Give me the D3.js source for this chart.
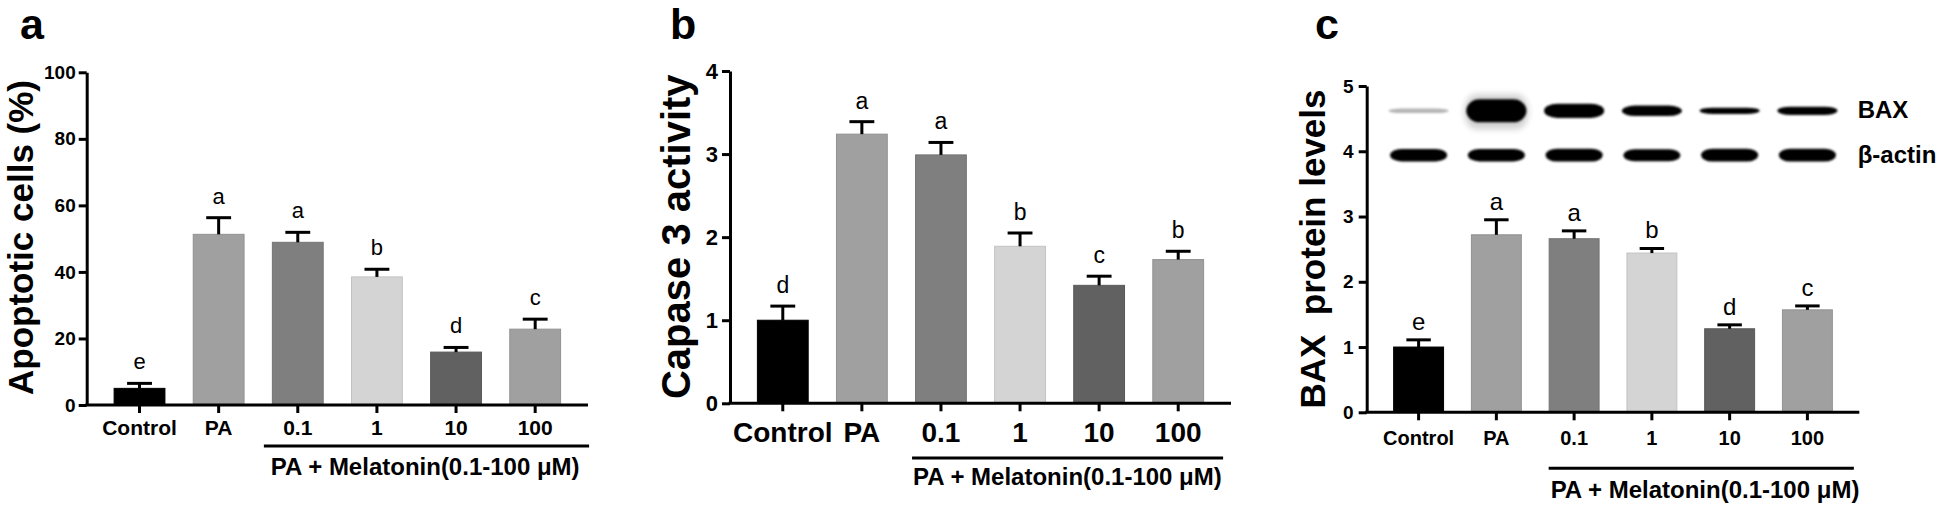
<!DOCTYPE html>
<html><head><meta charset="utf-8">
<script src="https://cdn.jsdelivr.net/npm/d3@7"></script>
<style>
body{margin:0;background:#fff}
svg{display:block}
text{font-family:"Liberation Sans",Arial,Helvetica,sans-serif}
</style>
</head><body>
<svg id="fig" width="1946" height="508"></svg>
<script>
// ---------- data ----------
const categories = ["Control", "PA", "0.1", "1", "10", "100"];
const barColors = ["#000000", "#a0a0a0", "#7f7f7f", "#d4d4d4", "#616161", "#a0a0a0"];

const apoptosisMean = [5.0, 51.3, 48.9, 38.5, 15.9, 22.8];
const apoptosisErr = [1.5, 5.0, 3.0, 2.3, 1.4, 3.0];
const apoptosisLetters = ["e", "a", "a", "b", "d", "c"];
const apoptosisTicks = [0, 20, 40, 60, 80, 100];

const caspaseMean = [1.0, 3.24, 2.99, 1.89, 1.42, 1.73];
const caspaseErr = [0.17, 0.15, 0.15, 0.16, 0.11, 0.10];
const caspaseLetters = ["d", "a", "a", "b", "c", "b"];
const caspaseTicks = [0, 1, 2, 3, 4];

const baxMean = [1.0, 2.72, 2.66, 2.44, 1.28, 1.57];
const baxErr = [0.11, 0.23, 0.12, 0.07, 0.06, 0.06];
const baxLetters = ["e", "a", "a", "b", "d", "c"];
const baxTicks = [0, 1, 2, 3, 4, 5];

// western blot band signal (relative), per lane
const baxBandSignal = [0.2, 1.0, 0.62, 0.45, 0.27, 0.36];
const actinBandSignal = [0.54, 0.54, 0.56, 0.52, 0.56, 0.56];
const blotRows = ["BAX", "β-actin"];
const blotRowLevel = [4.62, 3.94];

const bracketText = "PA + Melatonin(0.1-100 μM)";

// ---------- drawing ----------
const svg = d3.select("#fig");
const FONT = '"Liberation Sans",Arial,Helvetica,sans-serif';

function panel(cfg) {
  const g = svg.append("g");
  const x = d3.scaleBand().domain(categories)
    .range([cfg.x0, cfg.x1]).paddingInner(0.345).paddingOuter(0.34);
  const y = d3.scaleLinear().domain([0, cfg.yMax]).range([cfg.yZero, cfg.yTop]);
  const bw = x.bandwidth();

  // bars
  g.selectAll("rect.bar").data(categories).join("rect")
    .attr("class", "bar")
    .attr("x", d => x(d) + 0.5)
    .attr("width", bw - 1)
    .attr("y", (d, i) => y(cfg.means[i]))
    .attr("height", (d, i) => y(0) - y(cfg.means[i]))
    .attr("fill", (d, i) => barColors[i])
    .attr("stroke", (d, i) => d3.rgb(barColors[i]).darker(0.25))
    .attr("stroke-width", 1);

  // error bars (upper only)
  const cap = bw * 0.48;
  const eb = g.selectAll("g.err").data(categories).join("g").attr("class", "err");
  eb.append("line")
    .attr("x1", d => x(d) + bw / 2).attr("x2", d => x(d) + bw / 2)
    .attr("y1", (d, i) => y(cfg.means[i]))
    .attr("y2", (d, i) => y(cfg.means[i] + cfg.errs[i]))
    .attr("stroke", "#000").attr("stroke-width", 3);
  eb.append("line")
    .attr("x1", d => x(d) + bw / 2 - cap / 2).attr("x2", d => x(d) + bw / 2 + cap / 2)
    .attr("y1", (d, i) => y(cfg.means[i] + cfg.errs[i]))
    .attr("y2", (d, i) => y(cfg.means[i] + cfg.errs[i]))
    .attr("stroke", "#000").attr("stroke-width", 3);

  // significance letters
  g.selectAll("text.sig").data(categories).join("text")
    .attr("class", "sig")
    .attr("x", d => x(d) + bw / 2)
    .attr("y", (d, i) => y(cfg.means[i] + cfg.errs[i]) - cfg.letterGap)
    .attr("text-anchor", "middle")
    .attr("font-size", cfg.letterSize)
    .attr("fill", "#000")
    .text((d, i) => cfg.letters[i]);

  // axes
  const ya = g.append("g").attr("transform", `translate(${cfg.x0},0)`)
    .call(d3.axisLeft(y).tickValues(cfg.ticks).tickFormat(d3.format("d"))
      .tickSize(8).tickSizeOuter(0).tickPadding(cfg.yTickPad));
  const xa = g.append("g").attr("transform", `translate(0,${cfg.yZero})`)
    .call(d3.axisBottom(x).tickSize(8).tickSizeOuter(0).tickPadding(cfg.xTickPad));
  [ya, xa].forEach(a => {
    a.select(".domain").attr("stroke", "#000").attr("stroke-width", 3);
    a.selectAll(".tick line").attr("stroke", "#000").attr("stroke-width", 3);
    a.selectAll("text").attr("fill", "#000").attr("font-weight", "bold")
      .attr("font-family", FONT);
  });
  ya.selectAll("text").attr("font-size", cfg.yTickFont);
  xa.selectAll("text").attr("font-size", cfg.xTickFont);
  // x-axis line extends to the y-axis
  xa.select(".domain").attr("d", `M${cfg.x0 - 1.5},0H${cfg.x1}`);

  // y title
  g.append("text")
    .attr("transform", `translate(${cfg.titleX},${cfg.titleY}) rotate(-90)`)
    .attr("text-anchor", "middle")
    .attr("font-weight", "bold")
    .attr("font-size", cfg.titleSize)
    .style("white-space", "pre")
    .text(cfg.title);

  // panel letter
  g.append("text").attr("x", cfg.labelX).attr("y", 39)
    .attr("font-weight", "bold").attr("font-size", 43).text(cfg.label);

  // bracket for melatonin groups
  const bx0 = x("0.1") - cfg.bracketPadL;
  const bx1 = x("100") + bw + cfg.bracketPadR;
  g.append("line").attr("x1", bx0).attr("x2", bx1)
    .attr("y1", cfg.bracketY).attr("y2", cfg.bracketY)
    .attr("stroke", "#000").attr("stroke-width", 3);
  g.append("text").attr("x", bx0 + cfg.bracketTextDx).attr("y", cfg.bracketTextY)
    .attr("font-weight", "bold").attr("font-size", 24).text(bracketText);

  return {g, x, y, bw};
}

panel({
  x0: 86.7, x1: 588, yZero: 405, yTop: 72.3, yMax: 100, ticks: apoptosisTicks,
  means: apoptosisMean, errs: apoptosisErr, letters: apoptosisLetters,
  letterGap: 14, letterSize: 22,
  yTickPad: 3, xTickPad: 7, yTickFont: 19, xTickFont: 21,
  title: "Apoptotic cells (%)", titleX: 33, titleY: 237.5, titleSize: 35,
  label: "a", labelX: 20,
  bracketY: 446, bracketPadL: 8, bracketPadR: 28, bracketTextDx: 7, bracketTextY: 475
});

panel({
  x0: 730, x1: 1231, yZero: 403.3, yTop: 71, yMax: 4, ticks: caspaseTicks,
  means: caspaseMean, errs: caspaseErr, letters: caspaseLetters,
  letterGap: 13, letterSize: 23,
  yTickPad: 4, xTickPad: 11, yTickFont: 22, xTickFont: 28,
  title: "Capase 3 activity", titleX: 690, titleY: 236.7, titleSize: 40,
  label: "b", labelX: 670,
  bracketY: 458, bracketPadL: 3, bracketPadR: 19, bracketTextDx: 1, bracketTextY: 485
});

const pc = panel({
  x0: 1366.7, x1: 1859.3, yZero: 412.3, yTop: 86, yMax: 5, ticks: baxTicks,
  means: baxMean, errs: baxErr, letters: baxLetters,
  letterGap: 10, letterSize: 24,
  yTickPad: 5, xTickPad: 11, yTickFont: 19, xTickFont: 20,
  title: "BAX  protein levels", titleX: 1325, titleY: 249, titleSize: 35,
  label: "c", labelX: 1315,
  bracketY: 468.3, bracketPadL: 0, bracketPadR: 21, bracketTextDx: 2, bracketTextY: 498
});

// ---------- western blot in panel c ----------
const defs = svg.append("defs");
defs.append("filter").attr("id", "blur").attr("x", "-20%").attr("y", "-60%")
  .attr("width", "140%").attr("height", "220%")
  .append("feGaussianBlur").attr("stdDeviation", 1.3);
defs.append("filter").attr("id", "blur2").attr("x", "-30%").attr("y", "-100%")
  .attr("width", "160%").attr("height", "300%")
  .append("feGaussianBlur").attr("stdDeviation", 3);

const blot = pc.g.append("g");
const maxBandH = 23;
categories.forEach((c, i) => {
  const cx = pc.x(c) + pc.bw / 2;
  // BAX band
  const hB = Math.max(4, maxBandH * baxBandSignal[i]);
  const wB = pc.bw * 1.18;
  const yB = pc.y(blotRowLevel[0]);
  if (baxBandSignal[i] >= 0.9) {
    blot.append("rect")
      .attr("x", cx - wB / 2 - 2).attr("y", yB - hB / 2 - 5)
      .attr("width", wB + 4).attr("height", hB + 12)
      .attr("rx", wB * 0.2).attr("ry", (hB + 12) / 2)
      .attr("fill", "#000").attr("opacity", 0.18).attr("filter", "url(#blur2)");
  }
  blot.append("rect")
    .attr("x", cx - wB / 2).attr("y", yB - hB / 2)
    .attr("width", wB).attr("height", hB)
    .attr("rx", wB * 0.22).attr("ry", hB / 2)
    .attr("fill", baxBandSignal[i] < 0.25 ? "#777" : "#000")
    .attr("opacity", baxBandSignal[i] < 0.25 ? 0.55 : 1)
    .attr("filter", "url(#blur)");
  // beta-actin band
  const hA = maxBandH * actinBandSignal[i];
  const wA = pc.bw * 1.12;
  const yA = pc.y(blotRowLevel[1]);
  blot.append("rect")
    .attr("x", cx - wA / 2).attr("y", yA - hA / 2)
    .attr("width", wA).attr("height", hA)
    .attr("rx", wA * 0.2).attr("ry", hA / 2)
    .attr("fill", "#000").attr("filter", "url(#blur)");
});
blotRows.forEach((r, i) => {
  pc.g.append("text")
    .attr("x", 1857.7)
    .attr("y", pc.y(blotRowLevel[i]) + 7 + (i === 1 ? 1 : 0))
    .attr("font-weight", "bold").attr("font-size", 24)
    .text(r);
});
</script>
</body></html>
